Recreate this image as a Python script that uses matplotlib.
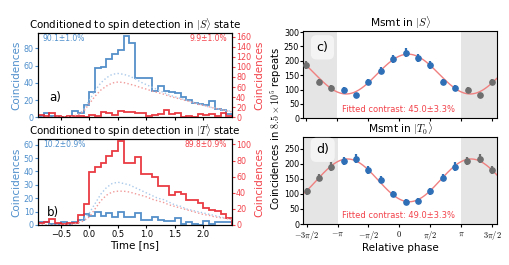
import numpy as np
import matplotlib
matplotlib.use("Agg")
import matplotlib.pyplot as plt

plt.rcParams['font.family'] = ['DejaVu Sans']
plt.rcParams['mathtext.fontset'] = 'cm'

# ---------------- data: histograms (bin width 0.1 ns) ----------------
bin_start = -0.9
bin_width = 0.1
n_bins = 34

S_blue = [2, 5, 2, 1, 1, 1, 7, 5, 14, 30, 57, 59, 68, 74, 78, 95, 86, 46, 46, 46,
          31, 37, 31, 30, 28, 24, 20, 17, 16, 14, 19, 10, 9, 4]
S_red = [4, 3, 8, 3, 1, 3, 3, 3, 1, 5, 3, 10, 8, 5, 12, 10, 10, 8, 8, 3,
         4, 6, 14, 6, 8, 1, 3, 1, 6, 4, 6, 3, 8, 3]
T_blue = [2, 2, 1, 1, 2, 1, 2, 4, 8, 7, 10, 7, 9, 6, 10, 6, 6, 9, 4, 4,
          6, 4, 3, 3, 5, 1, 2, 1, 0, 3, 1, 2, 2, 2]
T_red = [3, 4, 7, 3, 1, 3, 3, 12, 26, 66, 72, 77, 86, 92, 104, 77, 77, 84, 63, 63,
         60, 49, 49, 37, 41, 38, 31, 31, 27, 21, 19, 17, 14, 9]

# dotted model curves read at 0.1 ns steps from -0.9 to 2.5 ns
curve_t = [-0.9, -0.8, -0.7, -0.6, -0.5, -0.4, -0.3, -0.2, -0.1, 0.0, 0.1, 0.2, 0.3,
           0.4, 0.5, 0.6, 0.7, 0.8, 0.9, 1.0, 1.1, 1.2, 1.3, 1.4, 1.5, 1.6, 1.7, 1.8,
           1.9, 2.0, 2.1, 2.2, 2.3, 2.4, 2.5]
S_blue_curve = [0, 0, 0, 0.1, 0.2, 0.5, 1, 3, 9, 20, 31, 40, 46, 50, 51, 50, 48, 45, 41,
                38, 35, 32, 29, 26, 24, 22, 20, 18, 16, 14, 12, 11, 9, 8, 7]
S_red_curve = [0, 0, 0, 0.2, 0.5, 1, 2, 5, 12, 27, 42, 54, 62, 68, 70, 69, 66, 63, 59,
               56, 52, 49, 46, 42, 39, 36, 33, 30, 26, 24, 21, 18, 16, 13, 11]
T_blue_curve = [0, 0, 0, 0.1, 0.2, 0.3, 0.6, 1.5, 4, 9, 16, 23, 28, 31, 32, 31, 30, 28,
                26, 24, 22, 20, 19, 17, 15, 14, 12, 11, 10, 9, 8, 7, 6, 5, 4]
T_red_curve = [0, 0, 0, 0.2, 0.3, 0.5, 1, 2.5, 5, 10, 20, 30, 37, 41, 42, 42, 41, 39,
               37, 35, 32, 30, 28, 25, 23, 21, 19, 17, 15, 13, 12, 10, 9, 8, 7]

S_pct = ["90.1±1.0%", "9.9±1.0%"]
T_pct = ["10.2±0.9%", "89.8±0.9%"]

# ---------------- data: phase scans ----------------
phase_over_pi = [-0.9, -0.7, -0.5, -0.3, -0.1, 0.1, 0.3, 0.5, 0.7, 0.9]
c_counts = [98, 80, 127, 166, 208, 229, 209, 187, 126, 105]
c_err = [10, 9, 11, 13, 14, 15, 14, 14, 11, 10]
d_counts = [210, 217, 179, 147, 100, 73, 78, 108, 154, 191]
d_err = [14, 15, 13, 12, 10, 9, 9, 10, 12, 14]
# fitted sinusoid parameters: mean, contrast, phase of maximum (units of pi)
c_fit = (154.0, 0.450, 0.14)
d_fit = (145.0, 0.490, -0.84)
c_text = "Fitted contrast: 45.0±3.3%"
d_text = "Fitted contrast: 49.0±3.3%"

phase_ticks = [-1.5, -1.0, -0.5, 0.0, 0.5, 1.0, 1.5]
phase_ticklabels = [r'$-3\pi/2$', r'$-\pi$', r'$-\pi/2$', r'$0$', r'$\pi/2$', r'$\pi$', r'$3\pi/2$']
time_ticks = [-0.5, 0.0, 0.5, 1.0, 1.5, 2.0]

# ---------------- style ----------------
BLUE = '#4283c4'
RED = '#e8262f'
BLUE_T = '#4f8fcc'
RED_T = '#f2424a'
BLUE_D = '#a9c9ea'
RED_D = '#f19a9a'
PT_BLUE = '#2f6fb6'
PT_GRAY = '#6e6e6e'
FIT = '#f08080'

fig = plt.figure(figsize=(5.09, 2.65), dpi=100)

edges = bin_start + bin_width * np.arange(n_bins + 1)


def hist_panel(rect, blue, red, bcurve, rcurve, ylim_l, ylim_r, yt_l, yt_r, title, pct, lab, labpos, showx):
    ax = fig.add_axes(rect)
    ax2 = ax.twinx()
    ax.stairs(blue, edges, color=BLUE, lw=1.3, alpha=0.9)
    ax.plot(curve_t, bcurve, ls=':', color=BLUE_D, lw=1.0)
    ax2.stairs(red, edges, color=RED, lw=1.3, alpha=0.9)
    ax2.plot(curve_t, rcurve, ls=':', color=RED_D, lw=1.0)
    ax.set_xlim(-0.9, 2.5)
    ax.set_ylim(*ylim_l)
    ax2.set_ylim(*ylim_r)
    ax.set_yticks(yt_l)
    ax2.set_yticks(yt_r)
    ax.set_xticks(time_ticks)
    ax.tick_params(axis='y', colors=BLUE_T, labelsize=5.8, length=2, pad=1)
    ax2.tick_params(axis='y', colors=RED_T, labelsize=5.8, length=2, pad=1)
    ax.tick_params(axis='x', labelsize=6, length=2, pad=1.5)
    if not showx:
        ax.tick_params(axis='x', labelbottom=False)
    ax.set_ylabel('Coincidences', color=BLUE_T, fontsize=7.5, labelpad=2)
    ax2.set_ylabel('Coincidences', color=RED_T, fontsize=7.5, labelpad=2)
    ax.set_title(title, fontsize=7.4, pad=0.6)
    ax.text(0.025, 0.93, pct[0], transform=ax.transAxes, color=BLUE_T, fontsize=5.5,
            ha='left', va='center')
    ax.text(0.975, 0.93, pct[1], transform=ax.transAxes, color=RED_T, fontsize=5.5,
            ha='right', va='center')
    ax.text(labpos[0], labpos[1], lab, transform=ax.transAxes, fontsize=8.5,
            ha='left', va='center')
    for s in ax.spines.values():
        s.set_linewidth(0.8)
    return ax


ax_a = hist_panel([0.0747, 0.557, 0.381, 0.3185], S_blue, S_red, S_blue_curve, S_red_curve,
                  (0, 98), (0, 167), [0, 20, 40, 60, 80], [0, 20, 40, 60, 80, 100, 120, 140, 160],
                  r'Conditioned to spin detection in $|S\rangle$ state', S_pct, 'a)', (0.06, 0.24), False)
ax_b = hist_panel([0.0747, 0.151, 0.381, 0.325], T_blue, T_red, T_blue_curve, T_red_curve,
                  (0, 64.4), (0, 107), [0, 10, 20, 30, 40, 50, 60], [0, 20, 40, 60, 80, 100],
                  r'Conditioned to spin detection in $|T\rangle$ state', T_pct, 'b)', (0.045, 0.15), True)
ax_b.set_xlabel('Time [ns]', fontsize=7.5, labelpad=1)


def phase_panel(rect, counts, err, fit, title, txt, lab, labpos, ylim, yt, showx):
    ax = fig.add_axes(rect)
    xmin, xmax = -1.555, 1.58
    ax.axvspan(xmin * np.pi, -np.pi, color='#e5e5e5', lw=0, zorder=0)
    ax.axvspan(np.pi, xmax * np.pi, color='#e5e5e5', lw=0, zorder=0)
    x = np.array(phase_over_pi) * np.pi
    c = np.array(counts)
    e = np.array(err)
    # periodic copies shown in gray
    xl = x[-3:] - 2 * np.pi
    xr = x[:3] + 2 * np.pi
    xx = np.linspace(xmin * np.pi, xmax * np.pi, 300)
    mean, con, ph = fit
    ax.plot(xx, mean * (1 + con * np.cos(xx - ph * np.pi)), color=FIT, lw=1.0, zorder=2)
    ax.errorbar(x, c, yerr=e, fmt='o', color=PT_BLUE, ms=3.8, elinewidth=1.6, capsize=0, zorder=3)
    ax.errorbar(xl, c[-3:], yerr=e[-3:], fmt='o', color=PT_GRAY, ms=3.8, elinewidth=1.6, capsize=0, zorder=3)
    ax.errorbar(xr, c[:3], yerr=e[:3], fmt='o', color=PT_GRAY, ms=3.8, elinewidth=1.6, capsize=0, zorder=3)
    ax.set_xlim(xmin * np.pi, xmax * np.pi)
    ax.set_ylim(*ylim)
    ax.set_yticks(yt)
    ax.set_xticks(np.array(phase_ticks) * np.pi)
    ax.set_xticklabels(phase_ticklabels)
    ax.tick_params(axis='y', labelsize=5.8, length=2, pad=0.8)
    ax.tick_params(axis='x', labelsize=6, length=2, pad=1.5)
    if not showx:
        ax.tick_params(axis='x', labelbottom=False)
    ax.set_title(title, fontsize=7.7, pad=1.5)
    ax.text(-0.93 * np.pi, 29, txt, color=RED_T, fontsize=6, ha='left', va='center')
    ax.text(labpos[0], labpos[1], lab, transform=ax.transAxes, fontsize=9, ha='center', va='center',
            bbox=dict(boxstyle='round,pad=0.45', fc='white', ec='none', alpha=0.6))
    for s in ax.spines.values():
        s.set_linewidth(0.8)
    return ax


ax_c = phase_panel([0.5953, 0.5536, 0.382, 0.3306], c_counts, c_err, c_fit, r'Msmt in $|S\rangle$',
                   c_text, 'c)', (0.1, 0.81), (0, 305), [0, 50, 100, 150, 200, 250, 300], False)
ax_d = phase_panel([0.5959, 0.1547, 0.3805, 0.3294], d_counts, d_err, d_fit, r'Msmt in $|T_0\rangle$',
                   d_text, 'd)', (0.1, 0.85), (0, 290), [0, 50, 100, 150, 200, 250], True)
ax_d.set_xlabel('Relative phase', fontsize=7.5, labelpad=1)
fig.text(0.543, 0.515, r'Coincidences in $8.5\times10^5$ repeats', rotation=90, fontsize=7.2,
         ha='center', va='center')

fig.savefig('out.png', dpi=100)
